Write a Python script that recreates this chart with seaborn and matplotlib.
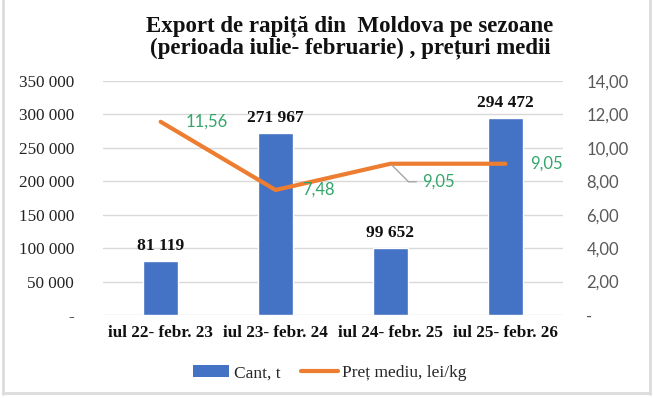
import numpy as np
import pandas as pd
import matplotlib
matplotlib.use("Agg")
import matplotlib.pyplot as plt
from matplotlib.lines import Line2D
from matplotlib.patches import Patch
import seaborn as sns

# data
seasons = ["iul 22- febr. 23", "iul 23- febr. 24", "iul 24- febr. 25", "iul 25- febr. 26"]
quantity_t = [81119, 271967, 99652, 294472]
price_lei_kg = [11.56, 7.48, 9.05, 9.05]

qty_labels = ["81 119", "271 967", "99 652", "294 472"]
price_labels = ["11,56", "7,48", "9,05", "9,05"]
left_ticks = [0, 50000, 100000, 150000, 200000, 250000, 300000, 350000]
left_ticklabels = ["-", "50 000", "100 000", "150 000", "200 000", "250 000", "300 000", "350 000"]
right_ticks = [0, 2, 4, 6, 8, 10, 12, 14]
right_ticklabels = ["-", "2,00", "4,00", "6,00", "8,00", "10,00", "12,00", "14,00"]

blue = "#4472C4"
orange = "#ED7D31"
green = "#33A56A"
serif = "Liberation Serif"

sns.set_theme(style="white")
plt.rcParams["font.family"] = [serif, "DejaVu Serif"]

df = pd.DataFrame({"season": seasons, "qty": quantity_t, "price": price_lei_kg})

fig = plt.figure(figsize=(6.53, 3.98), dpi=100)
ax = fig.add_axes([0.158, 0.2085, 0.704, 0.588])

sns.barplot(data=df, x="season", y="qty", color=blue, width=0.31, saturation=1, ax=ax)
ax.set_ylim(0, 350000)
ax.set_yticks(left_ticks)
ax.set_yticklabels(left_ticklabels, fontsize=12.3, color="#222222")
ax.set_xlabel("")
ax.set_ylabel("")
ax.set_xticks(range(len(seasons)))
ax.set_xticklabels(seasons, fontsize=12.3, fontweight="bold", color="#111111")
ax.tick_params(axis="x", length=0, pad=7)
ax.tick_params(axis="y", length=0, pad=21)
ax.grid(axis="y", color="#d9d9d9", linewidth=1)
ax.set_axisbelow(True)
for s in ax.spines.values():
    s.set_visible(False)
ax.set_xlim(-0.5, 3.5)

for i, lab in enumerate(qty_labels):
    ax.annotate(lab, (i, quantity_t[i]), xytext=(0, 5), textcoords="offset points",
                ha="center", va="bottom", fontsize=12.5, fontweight="bold", color="#111111")

ax2 = ax.twinx()
sns.lineplot(x=range(len(seasons)), y=price_lei_kg, color=orange, linewidth=3, ax=ax2)
ax2.set_ylim(0, 14)
ax2.set_yticks(right_ticks)
ax2.set_yticklabels(right_ticklabels, fontsize=12, color="#595959", family="Lato")
ax2.tick_params(axis="y", length=0, pad=17)
ax2.grid(False)
for s in ax2.spines.values():
    s.set_visible(False)
ax2.set_xlim(-0.5, 3.5)

# price labels
lab_kw = dict(textcoords="offset points", ha="left", va="center", fontsize=12, color=green, family="Lato")
ax2.annotate(price_labels[0], (0, price_lei_kg[0]), xytext=(18, 0), **lab_kw)
ax2.annotate(price_labels[1], (1, price_lei_kg[1]), xytext=(19, 0), **lab_kw)
ax2.annotate(price_labels[2], (2, price_lei_kg[2]), xytext=(23, -13), **lab_kw,
             arrowprops=dict(arrowstyle="-", color="#a6a6a6", lw=1,
                             connectionstyle="angle,angleA=0,angleB=-45,rad=0",
                             shrinkA=2, shrinkB=1))
ax2.annotate(price_labels[3], (3, price_lei_kg[3]), xytext=(18, 0), **lab_kw)

fig.text(0.536, 0.962, "Export de rapiță din  Moldova pe sezoane\n(perioada iulie- februarie) , prețuri medii",
         ha="center", va="top", fontsize=16.5, fontweight="bold", color="#111111", linespacing=1.05)

handles = [Patch(facecolor=blue, edgecolor="none"),
           Line2D([0], [0], color=orange, linewidth=3)]
fig.legend(handles, ["Cant, t", "Preț mediu, lei/kg"], loc="center", bbox_to_anchor=(0.505, 0.062),
           ncol=2, frameon=False, prop=dict(family=serif, size=12.5),
           handlelength=2.1, handletextpad=0.25, columnspacing=1.2)

# thin grey frame at left, right and bottom edges
fig.add_artist(Line2D([0.004, 0.004], [0.01, 1], transform=fig.transFigure, color="#dcdcdc", lw=2))
fig.add_artist(Line2D([0.995, 0.995], [0.01, 1], transform=fig.transFigure, color="#dcdcdc", lw=2))
fig.add_artist(Line2D([0.004, 0.995], [0.012, 0.012], transform=fig.transFigure, color="#dcdcdc", lw=2))

fig.savefig("out.png", dpi=100)
